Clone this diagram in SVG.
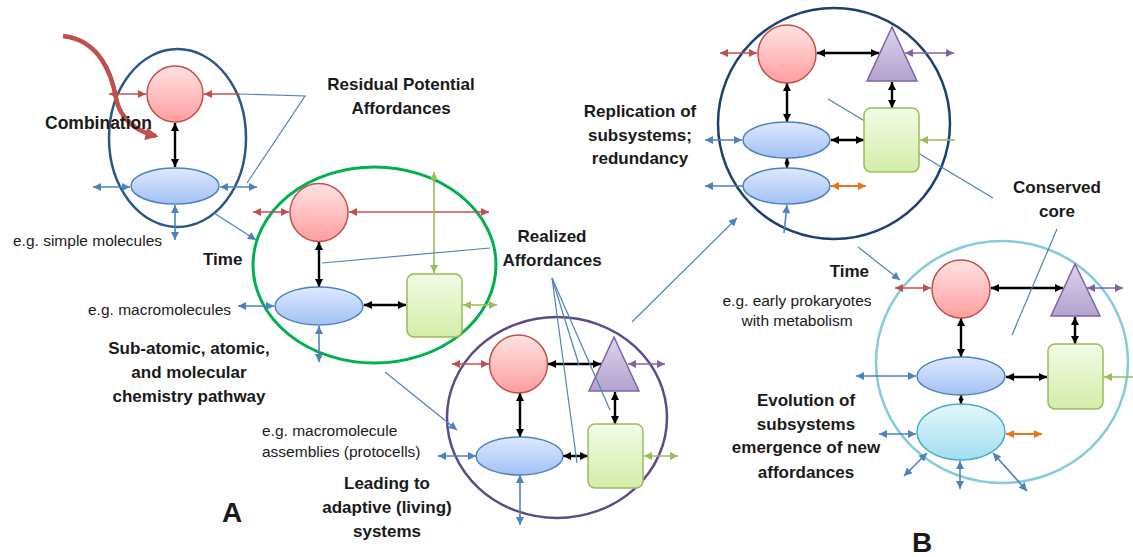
<svg xmlns="http://www.w3.org/2000/svg" width="1133" height="557" viewBox="0 0 1133 557">
<style>
text{font-family:"Liberation Sans",Arial,sans-serif;fill:#1a1a1a}
.b{font-weight:bold;font-size:17px}
.r{font-size:15.5px}
.m{text-anchor:middle}
.big{font-weight:bold;font-size:28px}
.rc{fill:url(#gRed);stroke:#C0504D;stroke-width:1.5}
.be{fill:url(#gBlue);stroke:#4F81BD;stroke-width:1.5}
.gr{fill:url(#gGreen);stroke:#9BBB59;stroke-width:1.5}
.tr{fill:url(#gPurple);stroke:#8064A2;stroke-width:1.5}
.ce{fill:url(#gCyan);stroke:#4BACC6;stroke-width:1.5}
.box{fill:none}
.cR{stroke:#C0504D;stroke-width:1.6}
.cB{stroke:#4F81BD;stroke-width:1.6}
.cG{stroke:#9BBB59;stroke-width:1.6}
.cP{stroke:#8064A2;stroke-width:1.6}
.cO{stroke:#E8741C;stroke-width:1.8}
.cK{stroke:#000;stroke-width:2.4}
.cl{stroke:#4F81BD;stroke-width:1.2;fill:none}
</style>
<defs>
<linearGradient id="gRed" x1="0" y1="0" x2="0" y2="1"><stop offset="0" stop-color="#FFE3E3"/><stop offset="1" stop-color="#FF9E9E"/></linearGradient>
<linearGradient id="gBlue" x1="0" y1="0" x2="0" y2="1"><stop offset="0" stop-color="#DDE9FF"/><stop offset="1" stop-color="#A3C1F4"/></linearGradient>
<linearGradient id="gGreen" x1="0" y1="0" x2="0" y2="1"><stop offset="0" stop-color="#F3FBE6"/><stop offset="1" stop-color="#D3EDA8"/></linearGradient>
<linearGradient id="gPurple" x1="0" y1="0" x2="0" y2="1"><stop offset="0" stop-color="#DCD3EC"/><stop offset="1" stop-color="#B3A2CF"/></linearGradient>
<linearGradient id="gCyan" x1="0" y1="0" x2="0" y2="1"><stop offset="0" stop-color="#E4F7FC"/><stop offset="1" stop-color="#A0DEF0"/></linearGradient>
<marker id="aR" viewBox="0 0 10 10" refX="10" refY="5" markerWidth="9" markerHeight="8" markerUnits="userSpaceOnUse" orient="auto-start-reverse"><path d="M0,0L10,5L0,10z" fill="#C0504D"/></marker>
<marker id="aB" viewBox="0 0 10 10" refX="10" refY="5" markerWidth="9" markerHeight="8" markerUnits="userSpaceOnUse" orient="auto-start-reverse"><path d="M0,0L10,5L0,10z" fill="#4F81BD"/></marker>
<marker id="aG" viewBox="0 0 10 10" refX="10" refY="5" markerWidth="9" markerHeight="8" markerUnits="userSpaceOnUse" orient="auto-start-reverse"><path d="M0,0L10,5L0,10z" fill="#9BBB59"/></marker>
<marker id="aP" viewBox="0 0 10 10" refX="10" refY="5" markerWidth="9" markerHeight="8" markerUnits="userSpaceOnUse" orient="auto-start-reverse"><path d="M0,0L10,5L0,10z" fill="#8064A2"/></marker>
<marker id="aO" viewBox="0 0 10 10" refX="10" refY="5" markerWidth="9" markerHeight="8" markerUnits="userSpaceOnUse" orient="auto-start-reverse"><path d="M0,0L10,5L0,10z" fill="#E8741C"/></marker>
<marker id="aK" viewBox="0 0 10 10" refX="10" refY="5" markerWidth="9" markerHeight="8" markerUnits="userSpaceOnUse" orient="auto-start-reverse"><path d="M0,0L10,5L0,10z" fill="#000"/></marker>
<marker id="aKs" viewBox="0 0 10 10" refX="10" refY="5" markerWidth="5" markerHeight="7" markerUnits="userSpaceOnUse" orient="auto-start-reverse"><path d="M0,0L10,5L0,10z" fill="#000"/></marker>
<marker id="aRb" viewBox="0 0 10 10" refX="8" refY="5" markerWidth="14" markerHeight="13" markerUnits="userSpaceOnUse" orient="auto"><path d="M0,0L10,5L0,10z" fill="#C0504D"/></marker>
</defs>
<rect width="1133" height="557" fill="#fff"/>

<!-- containers -->
<g id="sysA1"><ellipse class="box" cx="177.5" cy="138" rx="68.5" ry="89" stroke="#2B5688" stroke-width="2.5"/></g>
<g id="sysA2"><ellipse class="box" cx="374.5" cy="265" rx="121.5" ry="98" stroke="#00B050" stroke-width="3"/></g>
<g id="sysA3"><ellipse class="box" cx="557" cy="417.5" rx="110" ry="100.5" stroke="#5E4A8A" stroke-width="2.5"/></g>
<g id="sysB1"><ellipse class="box" cx="834" cy="123.5" rx="116" ry="115.5" stroke="#1F3F73" stroke-width="2.5"/></g>
<g id="sysB2"><ellipse class="box" cx="1002" cy="362" rx="126" ry="121" stroke="#86CBD9" stroke-width="2.5"/></g>

<!-- connectors -->
<g id="connectors" fill="none">
<!-- A1 -->
<line class="cR" x1="109" y1="94" x2="146" y2="94" marker-start="url(#aR)" marker-end="url(#aR)"/>
<line class="cR" x1="240" y1="94" x2="204" y2="94" marker-end="url(#aR)"/>
<line class="cK" x1="175" y1="123" x2="175" y2="167" marker-start="url(#aK)" marker-end="url(#aK)"/>
<line class="cB" x1="93" y1="187" x2="130" y2="187" marker-start="url(#aB)" marker-end="url(#aB)"/>
<line class="cB" x1="220" y1="187" x2="257" y2="187" marker-start="url(#aB)" marker-end="url(#aB)"/>
<line class="cB" x1="175" y1="205" x2="175" y2="240" marker-start="url(#aB)" marker-end="url(#aB)"/>
<line class="cl" x1="214" y1="213" x2="256" y2="240" marker-end="url(#aB)"/>
<polyline class="cl" points="240,94 305,96 247,183"/>
<path d="M63,36 C100,40 112,75 116,98 C120,120 138,132 156,136" stroke="#C0504D" stroke-width="4.5" marker-end="url(#aRb)"/>
<!-- A2 -->
<line class="cR" x1="253" y1="212" x2="289" y2="212" marker-start="url(#aR)" marker-end="url(#aR)"/>
<line class="cR" x1="349" y1="212" x2="489" y2="212" marker-start="url(#aR)" marker-end="url(#aR)"/>
<line class="cG" x1="434" y1="172" x2="434" y2="273" marker-start="url(#aG)" marker-end="url(#aG)"/>
<line class="cK" x1="319" y1="242" x2="319" y2="287" marker-start="url(#aK)" marker-end="url(#aK)"/>
<line class="cK" x1="364" y1="305" x2="406" y2="305" marker-start="url(#aK)" marker-end="url(#aK)"/>
<line class="cG" x1="463" y1="305" x2="497" y2="305" marker-start="url(#aG)" marker-end="url(#aG)"/>
<line class="cB" x1="238" y1="306" x2="274" y2="306" marker-start="url(#aB)" marker-end="url(#aB)"/>
<line class="cB" x1="319" y1="326" x2="319" y2="362" marker-start="url(#aB)" marker-end="url(#aB)"/>
<line class="cl" x1="322" y1="263" x2="490" y2="248"/>
<line class="cl" x1="385" y1="372" x2="457" y2="430" marker-end="url(#aB)"/>
<!-- A3 -->
<line class="cR" x1="452" y1="364" x2="489" y2="364" marker-start="url(#aR)" marker-end="url(#aR)"/>
<line class="cK" x1="548" y1="364" x2="601" y2="364" marker-start="url(#aK)" marker-end="url(#aK)"/>
<line class="cP" x1="628" y1="364" x2="665" y2="364" marker-start="url(#aP)" marker-end="url(#aP)"/>
<line class="cK" x1="615" y1="392" x2="615" y2="424" marker-start="url(#aK)" marker-end="url(#aK)"/>
<line class="cG" x1="644" y1="456" x2="678" y2="456" marker-start="url(#aG)" marker-end="url(#aG)"/>
<line class="cK" x1="563" y1="456" x2="588" y2="456" marker-start="url(#aK)" marker-end="url(#aK)"/>
<line class="cK" x1="520" y1="393" x2="520" y2="437" marker-start="url(#aK)" marker-end="url(#aK)"/>
<line class="cB" x1="438" y1="456" x2="476" y2="456" marker-start="url(#aB)" marker-end="url(#aB)"/>
<line class="cB" x1="520" y1="475" x2="520" y2="525" marker-start="url(#aB)" marker-end="url(#aB)"/>
<line class="cl" x1="632" y1="322" x2="737" y2="218" marker-end="url(#aB)"/>
<!-- B1 -->
<line class="cR" x1="720" y1="53" x2="757" y2="53" marker-start="url(#aR)" marker-end="url(#aR)"/>
<line class="cK" x1="817" y1="53" x2="879" y2="53" marker-start="url(#aK)" marker-end="url(#aK)"/>
<line class="cP" x1="905" y1="53" x2="954" y2="53" marker-start="url(#aP)" marker-end="url(#aP)"/>
<line class="cK" x1="892" y1="82" x2="892" y2="108" marker-start="url(#aK)" marker-end="url(#aK)"/>
<line class="cG" x1="955" y1="140" x2="920" y2="140" marker-end="url(#aG)"/>
<line class="cK" x1="831" y1="140" x2="864" y2="140" marker-start="url(#aK)" marker-end="url(#aK)"/>
<line class="cK" x1="787" y1="83" x2="787" y2="122" marker-start="url(#aK)" marker-end="url(#aK)"/>
<line class="cK" x1="787" y1="158" x2="787" y2="168" marker-start="url(#aKs)" marker-end="url(#aKs)"/>
<line class="cB" x1="705" y1="140" x2="742" y2="140" marker-start="url(#aB)" marker-end="url(#aB)"/>
<line class="cB" x1="743" y1="186" x2="705" y2="186" marker-end="url(#aB)"/>
<line class="cO" x1="831" y1="186" x2="866" y2="186" marker-start="url(#aO)" marker-end="url(#aO)"/>
<line class="cB" x1="784" y1="233" x2="787" y2="205" marker-end="url(#aB)"/>
<line class="cl" x1="828" y1="99" x2="993" y2="198"/>
<!-- B2 -->
<line class="cR" x1="895" y1="288" x2="931" y2="288" marker-start="url(#aR)" marker-end="url(#aR)"/>
<line class="cK" x1="991" y1="288" x2="1063" y2="288" marker-start="url(#aK)" marker-end="url(#aK)"/>
<line class="cP" x1="1087" y1="288" x2="1123" y2="288" marker-start="url(#aP)" marker-end="url(#aP)"/>
<line class="cK" x1="1075" y1="317" x2="1075" y2="344" marker-start="url(#aK)" marker-end="url(#aK)"/>
<line class="cG" x1="1138" y1="377" x2="1104" y2="377" marker-end="url(#aG)"/>
<line class="cK" x1="1006" y1="377" x2="1047" y2="377" marker-start="url(#aK)" marker-end="url(#aK)"/>
<line class="cK" x1="961" y1="318" x2="961" y2="357" marker-start="url(#aK)" marker-end="url(#aK)"/>
<line class="cK" x1="961" y1="395" x2="961" y2="404" marker-start="url(#aKs)" marker-end="url(#aKs)"/>
<line class="cB" x1="856" y1="376" x2="916" y2="376" marker-start="url(#aB)" marker-end="url(#aB)"/>
<line class="cB" x1="879" y1="434" x2="916" y2="434" marker-start="url(#aB)" marker-end="url(#aB)"/>
<line class="cO" x1="1006" y1="434" x2="1042" y2="434" marker-start="url(#aO)" marker-end="url(#aO)"/>
<line class="cB" x1="927" y1="453" x2="904" y2="476" marker-start="url(#aB)" marker-end="url(#aB)"/>
<line class="cB" x1="960" y1="461" x2="960" y2="489" marker-start="url(#aB)" marker-end="url(#aB)"/>
<line class="cB" x1="993" y1="453" x2="1027" y2="491" marker-start="url(#aB)" marker-end="url(#aB)"/>
<line class="cl" x1="858" y1="247" x2="900" y2="280" marker-end="url(#aB)"/>
<line class="cl" x1="1057" y1="229" x2="1012" y2="335"/>
</g>

<!-- nodes A1 -->
<g id="a1-circle"><circle class="rc" cx="175" cy="94" r="28"/></g>
<g id="a1-ellipse"><ellipse class="be" cx="175" cy="186" rx="44" ry="18"/></g>
<!-- nodes A2 -->
<g id="a2-circle"><circle class="rc" cx="319" cy="212.5" r="29"/></g>
<g id="a2-ellipse"><ellipse class="be" cx="319" cy="306" rx="44" ry="19"/></g>
<g id="a2-rect"><rect class="gr" x="407" y="274" width="55" height="63" rx="7"/></g>
<!-- nodes A3 -->
<g id="a3-circle"><circle class="rc" cx="518.5" cy="364" r="29"/></g>
<g id="a3-triangle"><polygon class="tr" points="614,337 639,391 589,391"/></g>
<g id="a3-rect"><rect class="gr" x="588" y="424" width="55" height="64" rx="7"/></g>
<g id="a3-ellipse"><ellipse class="be" cx="519.5" cy="456" rx="43.5" ry="19"/></g>
<!-- nodes B1 -->
<g id="b1-circle"><circle class="rc" cx="787" cy="54" r="29"/></g>
<g id="b1-triangle"><polygon class="tr" points="892,27 917,81 867,81"/></g>
<g id="b1-rect"><rect class="gr" x="864" y="108" width="55" height="64" rx="7"/></g>
<g id="b1-ellipse1"><ellipse class="be" cx="786.5" cy="140" rx="43.5" ry="18"/></g>
<g id="b1-ellipse2"><ellipse class="be" cx="786.5" cy="186" rx="43.5" ry="18"/></g>
<!-- nodes B2 -->
<g id="b2-circle"><circle class="rc" cx="961" cy="289" r="29"/></g>
<g id="b2-triangle"><polygon class="tr" points="1075,264 1100,316 1051,316"/></g>
<g id="b2-rect"><rect class="gr" x="1048" y="344" width="55" height="65" rx="7"/></g>
<g id="b2-ellipse"><ellipse class="be" cx="961" cy="376" rx="44" ry="19"/></g>
<g id="b2-cyan"><ellipse class="ce" cx="961" cy="432" rx="44" ry="28"/></g>

<!-- Realized callout lines over nodes -->
<g id="realized-callouts" class="cl">
<line class="cl" x1="552" y1="278" x2="577" y2="463"/>
<line class="cl" x1="552" y1="278" x2="579" y2="365"/>
<line class="cl" x1="552" y1="278" x2="610" y2="410"/>
</g>

<!-- labels -->
<g id="labels">
<text class="b m" x="401" y="90">Residual Potential</text>
<text class="b m" x="401" y="114">Affordances</text>
<text class="b" x="45" y="129" style="font-size:17.5px">Combination</text>
<text class="r" x="13" y="246">e.g. simple molecules</text>
<text class="b" x="203" y="265">Time</text>
<text class="r" x="88" y="315">e.g. macromolecules</text>
<text class="b m" x="189" y="354">Sub-atomic, atomic,</text>
<text class="b m" x="189" y="378">and molecular</text>
<text class="b m" x="189" y="402">chemistry pathway</text>
<text class="b m" x="552" y="242">Realized</text>
<text class="b m" x="552" y="266">Affordances</text>
<text class="r" x="262" y="436">e.g. macromolecule</text>
<text class="r" x="262" y="457">assemblies (protocells)</text>
<text class="b m" x="387" y="489">Leading to</text>
<text class="b m" x="387" y="513">adaptive (living)</text>
<text class="b m" x="387" y="537">systems</text>
<text class="big" x="222" y="522">A</text>
<text class="b m" x="640" y="117">Replication of</text>
<text class="b m" x="640" y="141">subsystems;</text>
<text class="b m" x="640" y="164">redundancy</text>
<text class="b m" x="1057" y="193">Conserved</text>
<text class="b m" x="1057" y="217">core</text>
<text class="b" x="869" y="277" text-anchor="end">Time</text>
<text class="r m" x="797" y="306">e.g. early prokaryotes</text>
<text class="r m" x="797" y="326">with metabolism</text>
<text class="b m" x="806" y="406">Evolution of</text>
<text class="b m" x="806" y="430">subsystems</text>
<text class="b m" x="806" y="453">emergence of new</text>
<text class="b m" x="806" y="478">affordances</text>
<text class="big" x="912" y="552">B</text>
</g>
</svg>
